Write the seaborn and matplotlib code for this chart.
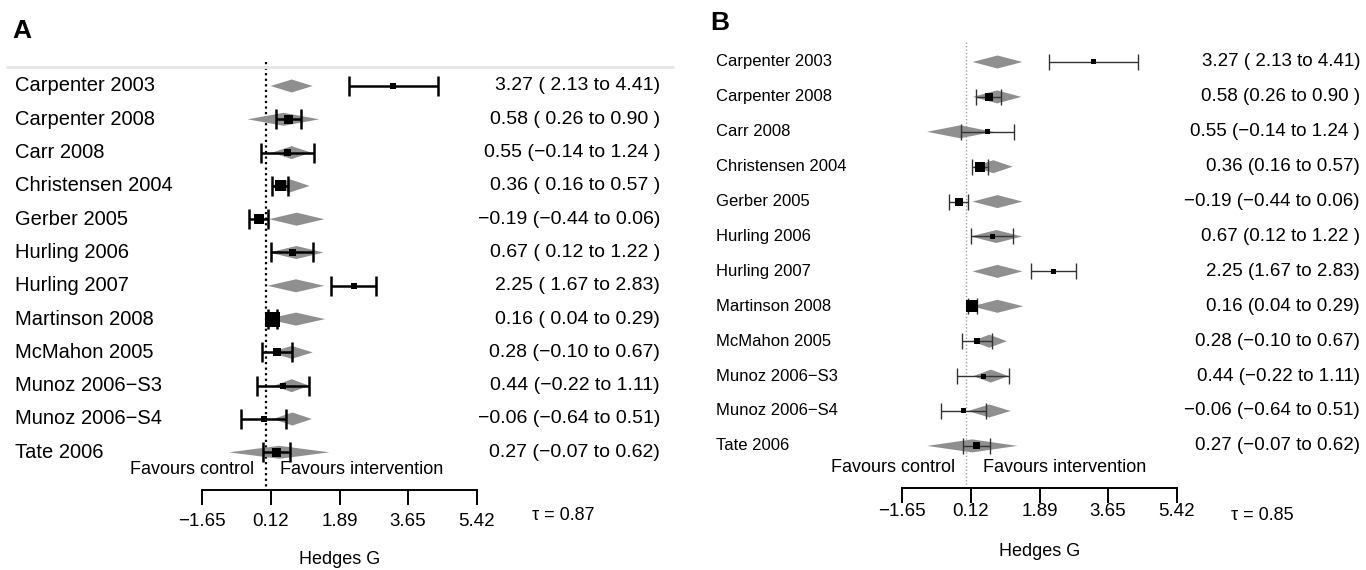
import numpy as np
import pandas as pd
import matplotlib
matplotlib.use("Agg")
import matplotlib.pyplot as plt
import matplotlib.transforms as mtransforms
from matplotlib.patches import Polygon
import seaborn as sns

# studies and observed Hedges G with 95% CI
studies = ["Carpenter 2003", "Carpenter 2008", "Carr 2008", "Christensen 2004",
           "Gerber 2005", "Hurling 2006", "Hurling 2007", "Martinson 2008",
           "McMahon 2005", "Munoz 2006\u2212S3", "Munoz 2006\u2212S4", "Tate 2006"]
est = [3.27, 0.58, 0.55, 0.36, -0.19, 0.67, 2.25, 0.16, 0.28, 0.44, -0.06, 0.27]
lo = [2.13, 0.26, -0.14, 0.16, -0.44, 0.12, 1.67, 0.04, -0.10, -0.22, -0.64, -0.07]
hi = [4.41, 0.90, 1.24, 0.57, 0.06, 1.22, 2.83, 0.29, 0.67, 1.11, 0.51, 0.62]

ci_text_a = ["3.27 ( 2.13 to 4.41)", "0.58 ( 0.26 to 0.90 )", "0.55 (\u22120.14 to 1.24 )",
             "0.36 ( 0.16 to 0.57 )", "\u22120.19 (\u22120.44 to 0.06)", "0.67 ( 0.12 to 1.22 )",
             "2.25 ( 1.67 to 2.83)", "0.16 ( 0.04 to 0.29)", "0.28 (\u22120.10 to 0.67)",
             "0.44 (\u22120.22 to 1.11)", "\u22120.06 (\u22120.64 to 0.51)", "0.27 (\u22120.07 to 0.62)"]
ci_text_b = ["3.27 ( 2.13 to 4.41)", "0.58 (0.26 to 0.90 )", "0.55 (\u22120.14 to 1.24 )",
             "0.36 (0.16 to 0.57)", "\u22120.19 (\u22120.44 to 0.06)", "0.67 (0.12 to 1.22 )",
             "2.25 (1.67 to 2.83)", "0.16 (0.04 to 0.29)", "0.28 (\u22120.10 to 0.67)",
             "0.44 (\u22120.22 to 1.11)", "\u22120.06 (\u22120.64 to 0.51)", "0.27 (\u22120.07 to 0.62)"]

# box side (px)
box_a = [6, 9, 7, 11, 10, 7, 6, 15, 8, 6, 6, 9]
box_b = [5, 8, 5, 10, 8, 5, 5, 12, 6, 5, 5, 7]

# shrunken estimates (grey diamonds): centre and half width
shrunk_a = [0.66, 0.45, 0.66, 0.62, 0.79, 0.78, 0.77, 0.77, 0.66, 0.66, 0.68, 0.34]
half_a = [0.54, 0.92, 0.50, 0.50, 0.71, 0.70, 0.73, 0.75, 0.54, 0.45, 0.50, 1.29]
shrunk_b = [0.81, 0.80, -0.15, 0.70, 0.81, 0.78, 0.81, 0.81, 0.60, 0.64, 0.60, 0.16]
half_b = [0.64, 0.62, 0.85, 0.50, 0.64, 0.66, 0.64, 0.66, 0.45, 0.45, 0.55, 1.16]

tick_vals = [-1.65, 0.12, 1.89, 3.65, 5.42]
tau_a = 0.87
tau_b = 0.85

sns.set_theme(style="white")
plt.rcParams['font.family'] = ['Liberation Sans', 'DejaVu Sans']
plt.rcParams['text.color'] = 'black'

W, H = 1366, 570
PPU = 38.9  # pixels per unit of Hedges G
fig = plt.figure(figsize=(W / 100, H / 100), dpi=100)


def panel(ax, pw, zero_px, row0, step, shrunk, half, boxes, ci_text, tau,
          lab_x, lab_fs, num_x, num_fs, y_fav, y_axis, y_lab, y_tau, x_tau, y_hg,
          dot_col, dot_lw, dot_top, bar_lw, bar_col, cap, fav_l, fav_r):
    rows = np.arange(len(studies))
    df = pd.DataFrame({"study": studies, "est": est, "lo": lo, "hi": hi,
                       "shr": shrunk, "half": half, "row": rows,
                       "area": np.array(boxes, dtype=float) ** 2})
    yd = lambda p: (p - row0) / step

    # grey diamonds
    dh = 6.5 / step
    for _, r in df.iterrows():
        ax.add_patch(Polygon([(r.shr - r.half, r.row), (r.shr, r.row - dh),
                              (r.shr + r.half, r.row), (r.shr, r.row + dh)],
                             closed=True, facecolor="#8f8f8f", edgecolor="none", zorder=1))
    # CIs
    ax.errorbar(df["est"], df["row"], xerr=[df["est"] - df["lo"], df["hi"] - df["est"]],
                fmt="none", ecolor=bar_col, elinewidth=bar_lw, capsize=cap,
                capthick=bar_lw, zorder=2)
    # weighted squares
    maxbox = 15.0
    sns.scatterplot(data=df, x="est", y="row", size="area", sizes=(0, (maxbox * 0.72) ** 2),
                    size_norm=(0, maxbox ** 2), marker="s", color="black",
                    linewidth=0, legend=False, ax=ax, zorder=3)

    # no-effect line
    ax.plot([0, 0], [yd(dot_top), yd(y_axis)], linestyle=(0, (1, 1.5)),
            color=dot_col, lw=dot_lw, zorder=0)

    ax.set_xlim(-zero_px / PPU, (pw - zero_px) / PPU)
    ax.set_ylim(yd(H), yd(0))

    tr = mtransforms.blended_transform_factory(ax.transAxes, ax.transData)
    for _, r in df.iterrows():
        ax.text(lab_x / pw, r.row, r.study, transform=tr, ha="left", va="center",
                fontsize=lab_fs, color="black")
        ax.text(num_x / pw, r.row, ci_text[r.row], transform=tr, ha="right", va="center",
                fontsize=num_fs, color="black")

    ax.text(fav_l, yd(y_fav), "Favours control", ha="right", va="center", fontsize=13)
    ax.text(fav_r, yd(y_fav), "Favours intervention", ha="left", va="center", fontsize=13)
    ax.text(x_tau / pw, yd(y_tau), "\u03c4 = %.2f" % tau, transform=tr, ha="left",
            va="center", fontsize=13)

    for s in ["top", "left", "right"]:
        ax.spines[s].set_visible(False)
    ax.spines["bottom"].set_position(("data", yd(y_axis)))
    ax.spines["bottom"].set_bounds(tick_vals[0], tick_vals[-1])
    ax.spines["bottom"].set_color("black")
    ax.spines["bottom"].set_linewidth(1.4)
    ax.set_xticks(tick_vals)
    ax.set_xticklabels([("%.2f" % t).replace("-", "\u2212") for t in tick_vals])
    ax.tick_params(axis="x", direction="out", length=11, width=1.4, color="black",
                   labelsize=13.5, labelcolor="black",
                   pad=(y_lab - y_axis - 15 - 9) * 0.72, bottom=True)
    ax.set_yticks([])
    ax.set_ylabel("")
    ax.set_xlabel("Hedges G", fontsize=13, color="black")
    ax.xaxis.set_label_coords((tick_vals[0] + tick_vals[-1]) / 2, yd(y_hg),
                              transform=ax.transData)
    ax.xaxis.label.set_va("center")
    ax.patch.set_alpha(0)


ax_a = fig.add_axes([0, 0, 0.5, 1])
panel(ax_a, 683, 266, 86, 33.3, shrunk_a, half_a, box_a, ci_text_a, tau_a,
      lab_x=15, lab_fs=14.5, num_x=660, num_fs=14, y_fav=470, y_axis=490, y_lab=522,
      y_tau=516, x_tau=532, y_hg=560, dot_col="black", dot_lw=1.6, dot_top=62,
      bar_lw=1.8, bar_col="black", cap=7, fav_l=-0.3, fav_r=0.36)
ax_a.axhline((67 - 86) / 33.3, xmin=7 / 683, xmax=673 / 683, color="#e6e6e6", lw=2, zorder=0)

ax_b = fig.add_axes([0.5, 0, 0.5, 1])
panel(ax_b, 683, 283, 62, 34.9, shrunk_b, half_b, box_b, ci_text_b, tau_b,
      lab_x=33, lab_fs=12, num_x=677, num_fs=13.5, y_fav=468, y_axis=488, y_lab=512,
      y_tau=516, x_tau=548, y_hg=551, dot_col="#a0a0a0", dot_lw=1.0, dot_top=42,
      bar_lw=1.0, bar_col="#333333", cap=6, fav_l=-0.28, fav_r=0.44)

fig.text(12 / W, 1 - 31 / H, "A", fontsize=19, fontweight="bold", va="center", ha="left")
fig.text(710 / W, 1 - 23 / H, "B", fontsize=19, fontweight="bold", va="center", ha="left")

fig.savefig("out.png", dpi=100)
